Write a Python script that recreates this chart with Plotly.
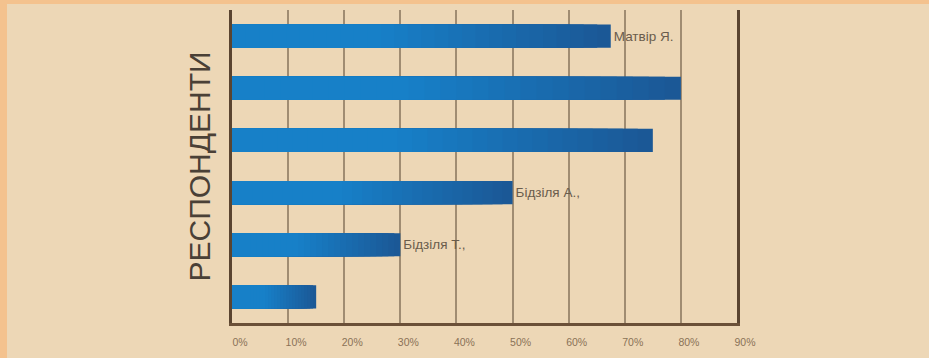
import plotly.graph_objects as go

# Data
respondents = ["Респондент 1", "Респондент 2", "Респондент 3", "Респондент 4", "Респондент 5", "Респондент 6"]
values = [67.5, 80, 75, 50, 30, 15]
bar_labels = ["Матвір Я.", "", "", "Бідзіля А.,", "Бідзіля Т.,", ""]
tick_vals = [0, 10, 20, 30, 40, 50, 60, 70, 80, 90]
tick_text = ["0%", "10%", "20%", "30%", "40%", "50%", "60%", "70%", "80%", "90%"]
axis_title = "РЕСПОНДЕНТИ"

W, H = 929, 358
L, R, T, B = 232, 192, 10, 31
pw, ph = W - L - R, H - T - B

dark = (0x1B, 0x58, 0x96)
light = (0x17, 0x80, 0xC8)
steps = 28

fig = go.Figure()
fig.add_trace(go.Bar(
    x=values, y=respondents, orientation="h",
    marker=dict(color="rgb(%d,%d,%d)" % dark, line=dict(width=0)),
    text=bar_labels, textposition="outside", cliponaxis=False,
    textfont=dict(family="Liberation Sans, Arial", size=13.5, color="#6A5C4C"),
    width=0.445, hoverinfo="skip",
))
# horizontal gradient: progressively shorter, lighter overlays
for k in range(1, steps):
    f = 1 - k / steps
    t = (f - 0.4) / 0.6 if f > 0.4 else 0
    c = tuple(int(round(light[i] + (dark[i] - light[i]) * t)) for i in range(3))
    fig.add_trace(go.Bar(
        x=[v * f for v in values], y=respondents, orientation="h",
        marker=dict(color="rgb(%d,%d,%d)" % c, line=dict(width=0)),
        width=0.445, hoverinfo="skip",
    ))

# background panel with orange border
fig.add_shape(type="rect", xref="paper", yref="paper",
              x0=(7 - L) / pw, x1=(W - L) / pw + 0.05,
              y0=-(H - T - ph) / ph - 0.05, y1=(T + ph - 4) / ph,
              fillcolor="#EDD7B6", line=dict(width=0), layer="below")

fig.add_annotation(text=axis_title, xref="paper", yref="paper",
                   x=(199 - L) / pw, y=0.5, xanchor="center", yanchor="middle",
                   textangle=-90, showarrow=False,
                   font=dict(family="Liberation Sans, Arial", size=30, color="#4A4036"))

fig.update_layout(
    width=W, height=H,
    margin=dict(l=L, r=R, t=T, b=B),
    paper_bgcolor="#F4C28E",
    plot_bgcolor="rgba(0,0,0,0)",
    showlegend=False,
    barmode="overlay",
    xaxis=dict(range=[0, 90], tickvals=tick_vals, ticktext=tick_text,
               showgrid=True, gridcolor="#A08C72", gridwidth=1.5,
               showline=True, linecolor="#6B5038", linewidth=3,
               zeroline=False, ticks="", ticklabelstandoff=7, ticklabelshift=8,
               tickfont=dict(family="Liberation Sans, Arial", size=10.5, color="#8A7256")),
    yaxis=dict(autorange="reversed", showticklabels=False, showgrid=False,
               showline=True, mirror=True, linecolor="#5A4430", linewidth=2.5,
               zeroline=False, ticks=""),
    bargap=0.555,
)

fig.write_html("out.html", config={"displayModeBar": False},
               post_script="document.body.style.margin='0px';document.body.style.overflow='hidden';")
